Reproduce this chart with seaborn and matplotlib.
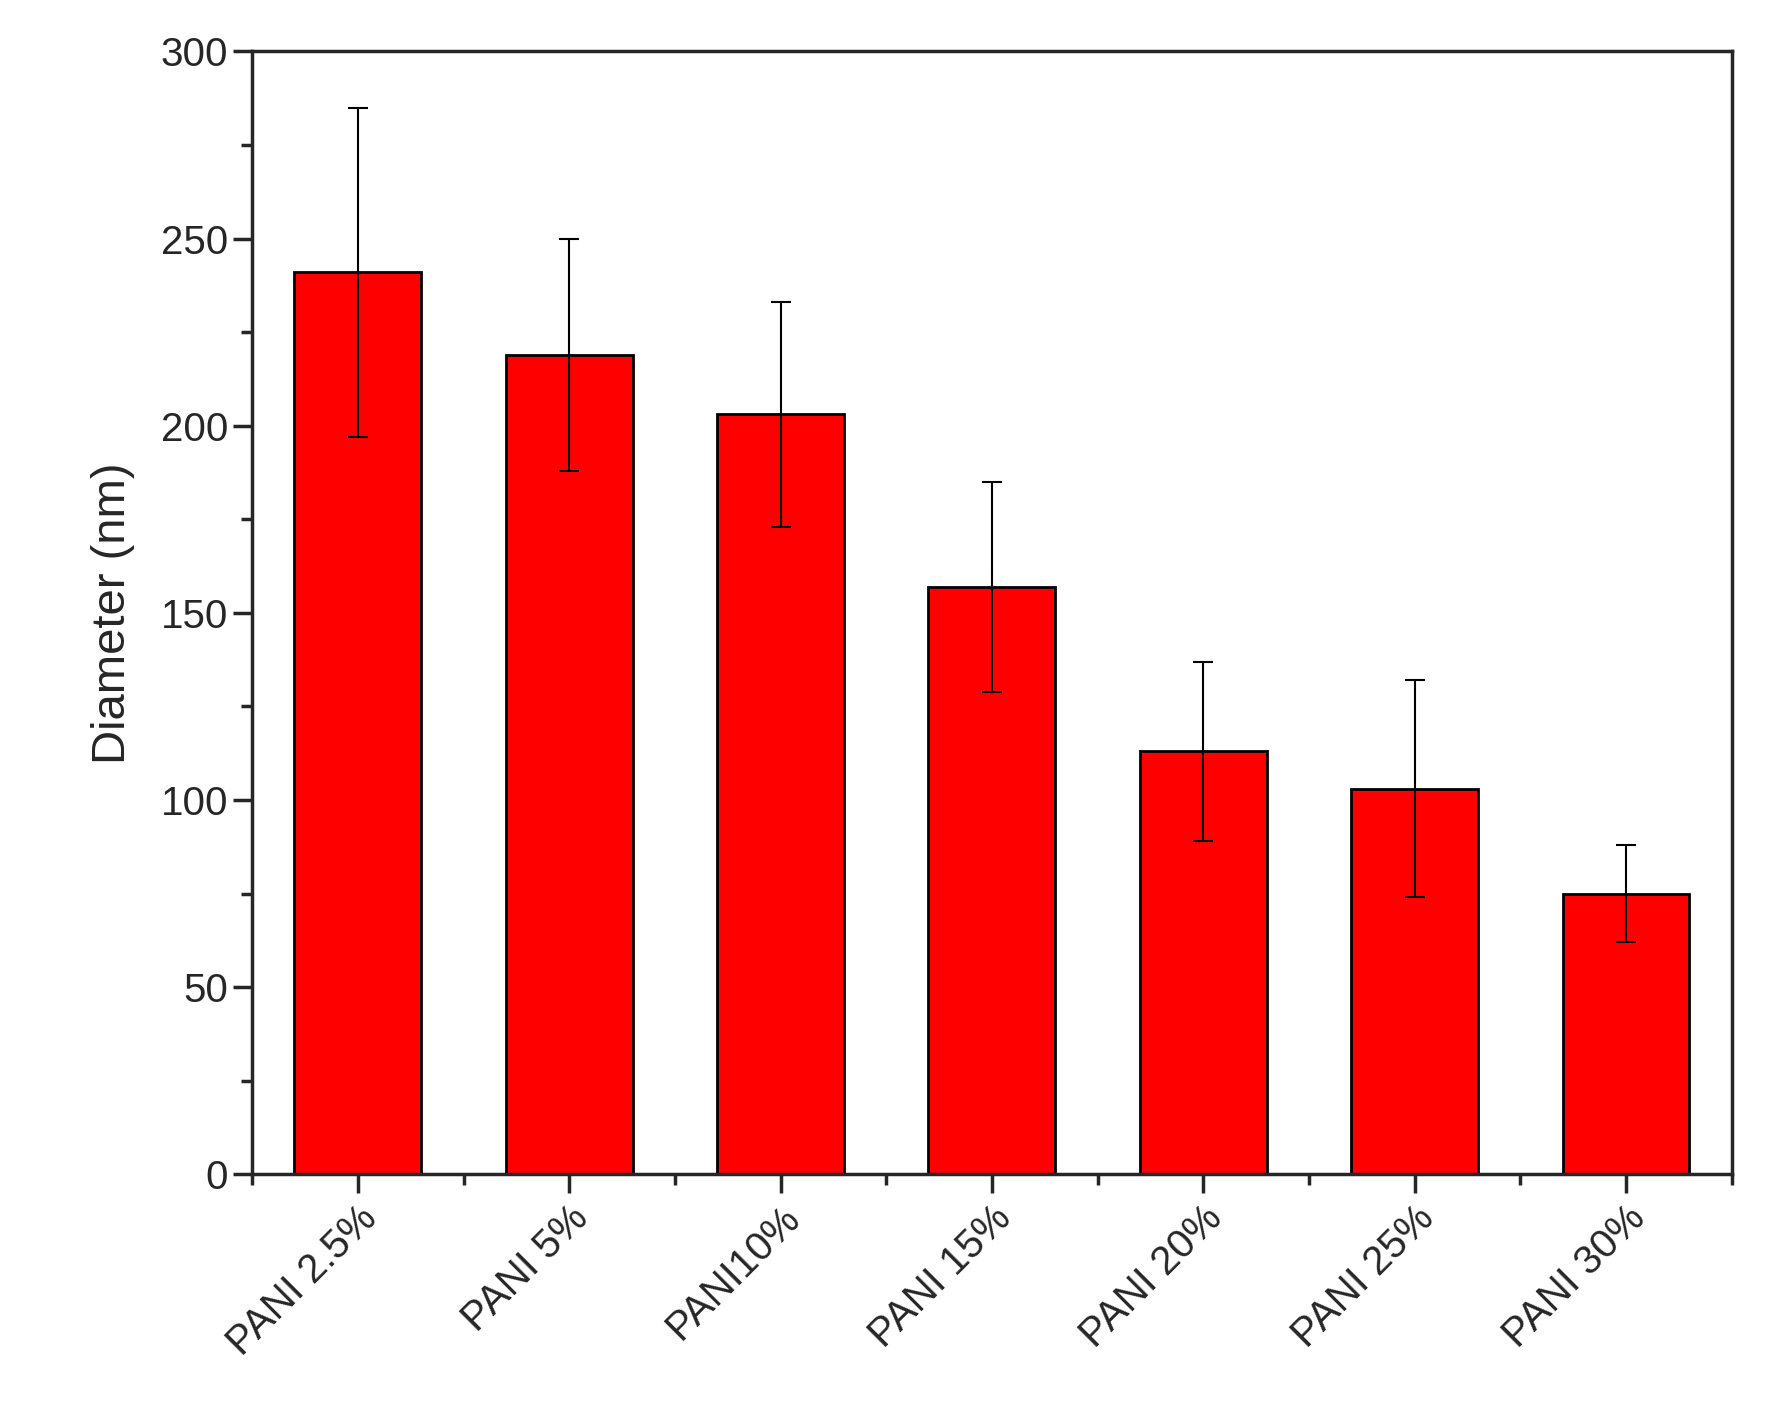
import pandas as pd
import matplotlib.pyplot as plt
import seaborn as sns
from matplotlib.ticker import MultipleLocator

samples = ['PANI 2.5%', 'PANI 5%', 'PANI10%', 'PANI 15%', 'PANI 20%', 'PANI 25%', 'PANI 30%']
diameter = [241, 219, 203, 157, 113, 103, 75]
err = [44, 31, 30, 28, 24, 29, 13]

df = pd.DataFrame({'sample': samples, 'diameter': diameter})

sns.set_style('ticks')
plt.rcParams['font.family'] = ['Liberation Sans', 'DejaVu Sans']

fig = plt.figure(figsize=(17.76, 14.27), dpi=100)
ax = fig.add_axes([0.142, 0.177, 0.833, 0.787])

sns.barplot(data=df, x='sample', y='diameter', color='#ff0000', saturation=1,
            width=0.6, edgecolor='black', linewidth=2, errorbar=None, ax=ax)
ax.errorbar(range(len(samples)), diameter, yerr=err, fmt='none', ecolor='black',
            elinewidth=1.5, capsize=7, capthick=1.5)

ax.set_xlim(-0.5, 6.5)
ax.set_ylim(0, 300)
ax.yaxis.set_major_locator(MultipleLocator(50))
ax.yaxis.set_minor_locator(MultipleLocator(25))
ax.xaxis.set_minor_locator(MultipleLocator(1, offset=0.5))
for s in ax.spines.values():
    s.set_linewidth(2.5)
    s.set_visible(True)
ax.tick_params(which='major', direction='out', length=14, width=2.5, labelsize=29)
ax.tick_params(which='minor', direction='out', length=8, width=2.5)
ax.tick_params(top=False, right=False, which='both')
plt.setp(ax.get_xticklabels(), rotation=45, ha='right', rotation_mode='anchor')
ax.set_xlabel('')
ax.set_ylabel('Diameter (nm)', fontsize=34, labelpad=18)

fig.savefig('out.png', dpi=100)
